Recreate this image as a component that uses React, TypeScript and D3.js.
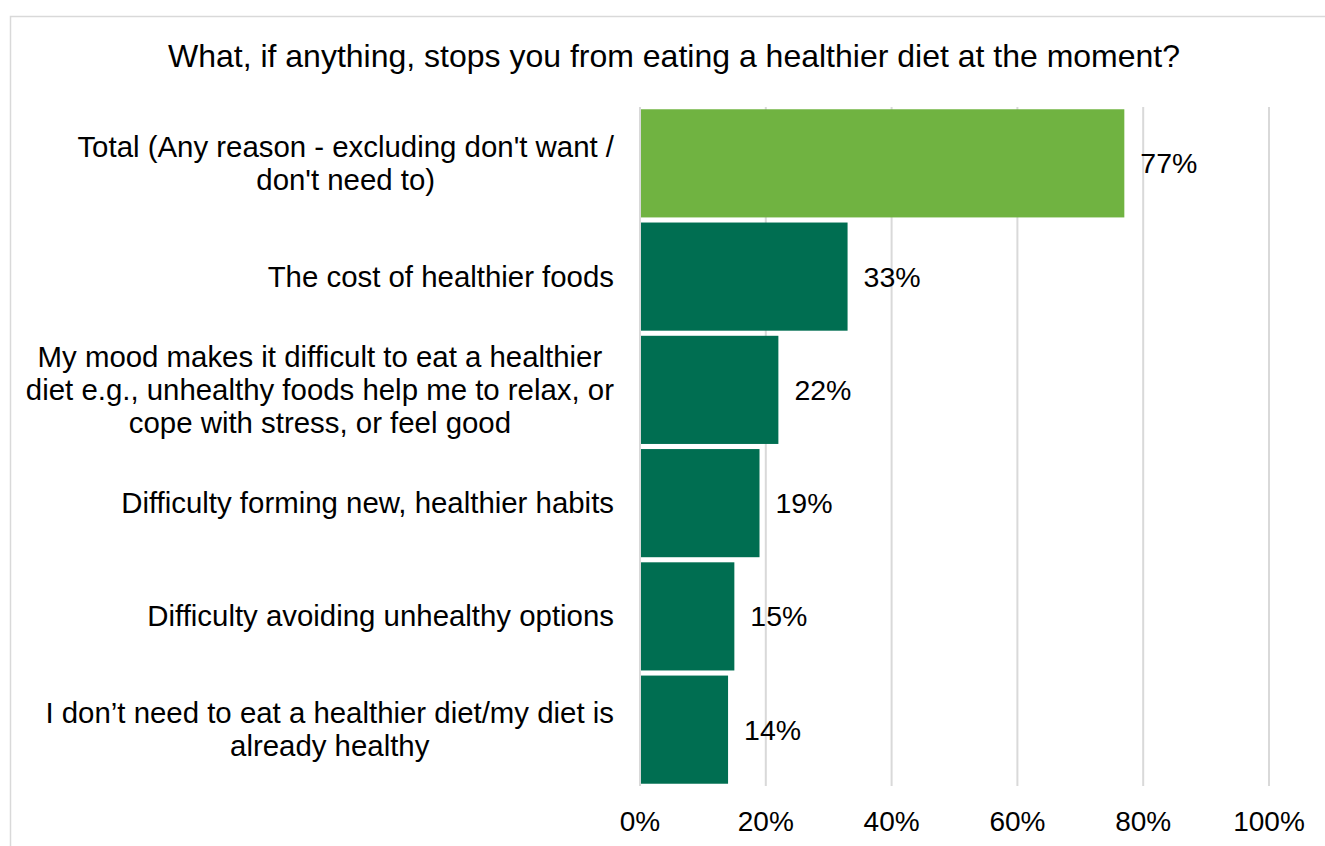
import React, { useEffect, useRef } from "react";
import * as d3 from "d3";

const title = "What, if anything, stops you from eating a healthier diet at the moment?";
const categories: string[][] = [
  ["Total (Any reason - excluding don't want /", "don't need to)"],
  ["The cost of healthier foods"],
  ["My mood makes it difficult to eat a healthier", "diet e.g., unhealthy foods help me to relax, or", "cope with stress, or feel good"],
  ["Difficulty forming new, healthier habits"],
  ["Difficulty avoiding unhealthy options"],
  ["I don\u2019t need to eat a healthier diet/my diet is", "already healthy"],
];
const values = [77, 33, 22, 19, 15, 14];
const barColors = ["#70B341", "#006E51", "#006E51", "#006E51", "#006E51", "#006E51"];
const ticks = [0, 20, 40, 60, 80, 100];

const W = 1325;
const H = 846;
const FONT = "'Liberation Sans', Arial, sans-serif";
const CAT_FS = 29.4;

export default function App() {
  const ref = useRef<SVGSVGElement>(null);
  useEffect(() => {
    const svg = d3.select(ref.current);
    svg.selectAll("*").remove();

    svg.append("rect").attr("x", 10.5).attr("y", 16.5).attr("width", W).attr("height", H)
      .attr("fill", "#fff").attr("stroke", "#d9d9d9").attr("stroke-width", 1.5);

    svg.append("text").attr("x", 674).attr("y", 67).attr("text-anchor", "middle")
      .attr("font-family", FONT).attr("font-size", 32).attr("fill", "#000").text(title);

    const x = d3.scaleLinear().domain([0, 100]).range([640, 1269]);
    const y = d3.scaleBand<number>().domain(values.map((_, i) => i)).range([107, 786])
      .paddingInner(0.045).paddingOuter(0.02);

    const g = svg.append("g");
    g.selectAll("line.grid").data(ticks.slice(1)).enter().append("line")
      .attr("x1", (d) => x(d)).attr("x2", (d) => x(d)).attr("y1", 107).attr("y2", 786)
      .attr("stroke", "#d9d9d9").attr("stroke-width", 2);

    g.selectAll("rect.bar").data(values).enter().append("rect")
      .attr("x", x(0)).attr("y", (_, i) => y(i)!).attr("width", (d) => x(d) - x(0))
      .attr("height", y.bandwidth()).attr("fill", (_, i) => barColors[i]);

    g.append("line").attr("x1", x(0)).attr("x2", x(0)).attr("y1", 107).attr("y2", 786)
      .attr("stroke", "#d9d9d9").attr("stroke-width", 2);

    g.selectAll("text.tick").data(ticks).enter().append("text")
      .attr("x", (d) => x(d)).attr("y", 831).attr("text-anchor", "middle")
      .attr("font-family", FONT).attr("font-size", 28).attr("fill", "#000")
      .text((d) => `${d}%`);

    g.selectAll("text.val").data(values).enter().append("text")
      .attr("x", (d) => x(d) + 16).attr("y", (_, i) => y(i)! + y.bandwidth() / 2 + 10)
      .attr("font-family", FONT).attr("font-size", 28.5).attr("fill", "#000")
      .text((d) => `${d}%`);

    const lh = 33;
    categories.forEach((lines, i) => {
      const cy = y(i)! + y.bandwidth() / 2;
      const tmp = svg.append("g");
      const widths = lines.map((l) => {
        const t = tmp.append("text").attr("font-family", FONT).attr("font-size", CAT_FS).text(l);
        return (t.node() as SVGTextElement).getComputedTextLength();
      });
      tmp.remove();
      const maxW = d3.max(widths) || 0;
      const cx = 614 - maxW / 2;
      lines.forEach((l, j) => {
        svg.append("text").attr("x", cx)
          .attr("y", cy + 10 + (j - (lines.length - 1) / 2) * lh)
          .attr("text-anchor", "middle").attr("font-family", FONT).attr("font-size", CAT_FS)
          .attr("fill", "#000").text(l);
      });
    });
  }, []);
  return (
    <svg ref={ref} width={W} height={H}
      style={{ position: "absolute", left: 0, top: 0, background: "#fff" }} />
  );
}
